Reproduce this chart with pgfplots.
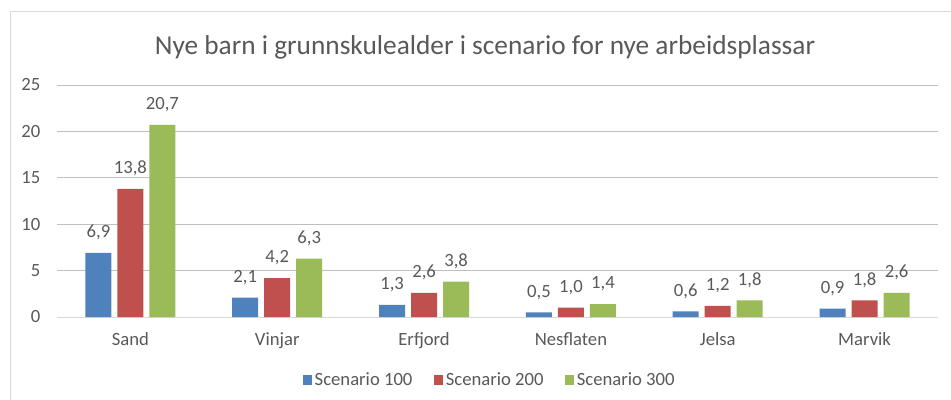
\documentclass[border=0pt]{standalone}
\usepackage{fontspec}
\setmainfont{Carlito}
\usepackage{pgfplots}
\pgfplotsset{compat=1.18}
\definecolor{sblue}{HTML}{4F81BD}
\definecolor{sred}{HTML}{C0504D}
\definecolor{sgreen}{HTML}{9BBB59}
\definecolor{txt}{HTML}{595959}
\definecolor{grid}{HTML}{D9D9D9}
\begin{document}
\begin{tikzpicture}
\useasboundingbox (0,0) rectangle (713.25pt,-300pt);
\draw[grid, line width=0.75pt] (7.5pt,-305pt) -- (7.5pt,-8.25pt) -- (720pt,-8.25pt);
\node[txt, font=\fontsize{20.5}{24}\selectfont] at (363.75pt,-35.25pt) {Nye barn i grunnskulealder i scenario for nye arbeidsplassar};
\begin{axis}[
  at={(42.75pt,-237.75pt)}, anchor=south west,
  scale only axis, width=660.75pt, height=174pt,
  ybar=4.5pt, bar width=19.5pt,
  xmin=-0.5, xmax=5.5, ymin=0, ymax=25,
  xtick=data, xticklabels={Sand,Vinjar,Erfjord,Nesflaten,Jelsa,Marvik},
  ytick={0,5,10,15,20,25},
  major tick length=0pt,
  xmajorgrids=false, ymajorgrids=true, grid style={grid, line width=0.75pt},
  axis x line*=bottom, axis y line*=left,
  x axis line style={grid, line width=0.75pt, -},
  y axis line style={draw=none},
  tick label style={txt, font=\fontsize{14}{16}\selectfont},
  /pgf/number format/assume math mode=true,
  yticklabel style={xshift=-9pt},
  xticklabel style={yshift=-8pt},
  nodes near coords,
  every node near coord/.append style={txt, font=\fontsize{14}{16}\selectfont, yshift=6pt,
    /pgf/number format/.cd, fixed, fixed zerofill, precision=1, use comma, assume math mode=true},
  legend style={at={(axis description cs:0.4915,-0.2716)}, anchor=center, draw=none,
    font=\fontsize{14}{16}\selectfont, text=txt, legend columns=3,
    /tikz/every even column/.append style={column sep=14pt}},
  legend image code/.code={\fill[#1] (0pt,-3.5pt) rectangle (7pt,3.5pt);},
]
\addplot[fill=sblue, draw=none] coordinates {(0,6.9) (1,2.1) (2,1.3) (3,0.5) (4,0.6) (5,0.9)};
\addlegendentry{Scenario 100}
\addplot[fill=sred, draw=none] coordinates {(0,13.8) (1,4.2) (2,2.6) (3,1.0) (4,1.2) (5,1.8)};
\addlegendentry{Scenario 200}
\addplot[fill=sgreen, draw=none] coordinates {(0,20.7) (1,6.3) (2,3.8) (3,1.4) (4,1.8) (5,2.6)};
\addlegendentry{Scenario 300}
\end{axis}
\end{tikzpicture}
\end{document}
